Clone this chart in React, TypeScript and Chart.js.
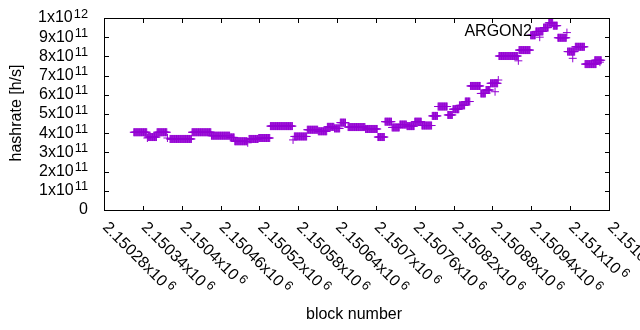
import React, { useEffect, useRef } from "react";
import { Chart, registerables } from "chart.js";

Chart.register(...registerables);

// Runs of consecutive blocks that share the same hashrate
const runStartBlocks = [
  2150326, 2150347, 2150348, 2150362, 2150378, 2150382, 2150416, 2150446, 2150475, 2150482,
  2150502, 2150504, 2150519, 2150537, 2150572, 2150574, 2150594, 2150611, 2150625, 2150636,
  2150645, 2150657, 2150684, 2150703, 2150714, 2150725, 2150737, 2150748, 2150760, 2150771,
  2150787, 2150796, 2150811, 2150819, 2150829, 2150838, 2150846, 2150862, 2150870, 2150877,
  2150884, 2150889, 2150890, 2150920, 2150921, 2150939, 2150947, 2150953, 2150959, 2150967,
  2150974, 2150981, 2150995, 2150996, 2151004, 2151008, 2151023, 2151038, 2151046,
];
const runEndBlocks = [
  2150346, 2150347, 2150361, 2150377, 2150378, 2150415, 2150445, 2150474, 2150481, 2150501,
  2150502, 2150518, 2150536, 2150571, 2150572, 2150593, 2150610, 2150624, 2150635, 2150644,
  2150653, 2150683, 2150702, 2150713, 2150724, 2150736, 2150747, 2150759, 2150770, 2150786,
  2150795, 2150810, 2150818, 2150828, 2150837, 2150845, 2150861, 2150869, 2150876, 2150888,
  2150884, 2150889, 2150919, 2150920, 2150938, 2150946, 2150958, 2150953, 2150966, 2150973,
  2150980, 2150994, 2150995, 2151007, 2151004, 2151022, 2151040, 2151048, 2151046,
];
const runHashrates = [
  4.05e11, 3.75e11, 3.8e11, 4.05e11, 3.75e11, 3.7e11, 4.05e11, 3.87e11, 3.78e11, 3.58e11,
  3.5e11, 3.7e11, 3.75e11, 4.37e11, 3.65e11, 3.83e11, 4.18e11, 4.1e11, 4.33e11, 4.25e11,
  4.55e11, 4.32e11, 4.22e11, 3.8e11, 4.6e11, 4.3e11, 4.45e11, 4.37e11, 4.6e11, 4.4e11,
  4.9e11, 5.39e11, 4.95e11, 5.25e11, 5.45e11, 5.65e11, 6.46e11, 6.07e11, 6.25e11, 6.6e11,
  6.16e11, 6.77e11, 8.02e11, 7.77e11, 8.33e11, 9.1e11, 9.3e11, 9.0e11, 9.5e11, 9.75e11,
  9.6e11, 8.97e11, 9.24e11, 8.25e11, 7.9e11, 8.5e11, 7.6e11, 7.8e11, 7.7e11,
];

const xTickBlocks = [
  2150280, 2150340, 2150400, 2150460, 2150520, 2150580, 2150640,
  2150700, 2150760, 2150820, 2150880, 2150940, 2151000, 2151060,
];
const xTickMain = [
  "2.15028x10", "2.15034x10", "2.1504x10", "2.15046x10", "2.15052x10", "2.15058x10", "2.15064x10",
  "2.1507x10", "2.15076x10", "2.15082x10", "2.15088x10", "2.15094x10", "2.151x10", "2.15106x10",
];
const xTickExp = "6";

const yTickValues = [0, 1e11, 2e11, 3e11, 4e11, 5e11, 6e11, 7e11, 8e11, 9e11, 1e12];
const yTickMain = ["0", "1x10", "2x10", "3x10", "4x10", "5x10", "6x10", "7x10", "8x10", "9x10", "1x10"];
const yTickExp = ["", "11", "11", "11", "11", "11", "11", "11", "11", "11", "12"];

const seriesName = "ARGON2";
const xTitle = "block number";
const yTitle = "hashrate [h/s]";

const FONT = '"Liberation Sans", Arial, sans-serif';
const MAIN = "16px " + FONT;
const SUP = "12.8px " + FONT;
const COLOR = "#9400d3";

function buildPoints() {
  const pts: { x: number; y: number }[] = [];
  for (let i = 0; i < runStartBlocks.length; i++) {
    for (let b = runStartBlocks[i]; b <= runEndBlocks[i]; b++) {
      pts.push({ x: b, y: runHashrates[i] });
    }
  }
  return pts;
}

const decor = {
  id: "decor",
  afterDraw(chart: any) {
    const ctx: CanvasRenderingContext2D = chart.ctx;
    const a = chart.chartArea;
    const xs = chart.scales.x;
    const ys = chart.scales.y;
    ctx.save();
    ctx.strokeStyle = "#000";
    ctx.lineWidth = 1;
    ctx.strokeRect(a.left + 0.5, a.top + 0.5, a.right - a.left, a.bottom - a.top);
    const tl = 5;
    ctx.beginPath();
    yTickValues.forEach((v) => {
      const py = Math.round(ys.getPixelForValue(v)) + 0.5;
      ctx.moveTo(a.left, py);
      ctx.lineTo(a.left + tl, py);
      ctx.moveTo(a.right + 1, py);
      ctx.lineTo(a.right + 1 - tl, py);
    });
    xTickBlocks.forEach((v) => {
      const px = Math.round(xs.getPixelForValue(v)) + 0.5;
      ctx.moveTo(px, a.bottom + 1);
      ctx.lineTo(px, a.bottom + 1 - tl);
      ctx.moveTo(px, a.top);
      ctx.lineTo(px, a.top + tl);
    });
    ctx.stroke();

    ctx.fillStyle = "#000";
    ctx.textBaseline = "middle";
    // y tick labels
    yTickValues.forEach((v, i) => {
      const py = ys.getPixelForValue(v);
      const right = a.left - 16;
      ctx.font = SUP;
      const sw = yTickExp[i] ? ctx.measureText(yTickExp[i]).width : 0;
      ctx.font = MAIN;
      ctx.textAlign = "right";
      const mainRight = right - (sw ? sw + 1 : 0);
      ctx.fillText(yTickMain[i], mainRight, py);
      if (sw) {
        ctx.font = SUP;
        ctx.textAlign = "left";
        ctx.fillText(yTickExp[i], mainRight + 1, py - 4);
      }
    });
    // x tick labels
    xTickBlocks.forEach((v, i) => {
      const px = xs.getPixelForValue(v);
      ctx.save();
      ctx.translate(px + 1, a.bottom + 15);
      ctx.rotate(Math.PI / 4);
      ctx.font = MAIN;
      ctx.textAlign = "left";
      ctx.fillText(xTickMain[i], 0, 0);
      const w = ctx.measureText(xTickMain[i]).width;
      ctx.font = SUP;
      ctx.fillText(xTickExp, w + 3, -4);
      ctx.restore();
    });
    // axis titles
    ctx.font = MAIN;
    ctx.textAlign = "center";
    ctx.fillText(xTitle, 354, 315);
    ctx.save();
    ctx.translate(17, 113);
    ctx.rotate(-Math.PI / 2);
    ctx.fillText(yTitle, 0, 0);
    ctx.restore();
    // key
    ctx.textAlign = "right";
    ctx.fillText(seriesName, 532, 32);
    ctx.restore();
  },
};

export default function App() {
  const ref = useRef<HTMLCanvasElement>(null);
  useEffect(() => {
    if (!ref.current) return;
    const chart = new Chart(ref.current, {
      type: "scatter",
      data: {
        datasets: [
          {
            label: seriesName,
            data: buildPoints(),
            pointStyle: "cross",
            pointRadius: 4,
            pointBorderWidth: 1,
            borderColor: COLOR,
            backgroundColor: COLOR,
            showLine: false,
          },
        ],
      },
      options: {
        responsive: false,
        animation: false,
        devicePixelRatio: 1,
        layout: { padding: { left: 104, top: 18, right: 31, bottom: 120 } },
        plugins: { legend: { display: false }, tooltip: { enabled: false } },
        events: [],
        scales: {
          x: { type: "linear", display: false, min: 2150280, max: 2151060 },
          y: { type: "linear", display: false, min: 0, max: 1e12 },
        },
      },
      plugins: [decor],
    });
    return () => chart.destroy();
  }, []);
  return (
    <div style={{ position: "fixed", left: 0, top: 0, width: 640, height: 330, background: "#fff" }}>
      <canvas ref={ref} width={640} height={330} style={{ display: "block" }} />
    </div>
  );
}
